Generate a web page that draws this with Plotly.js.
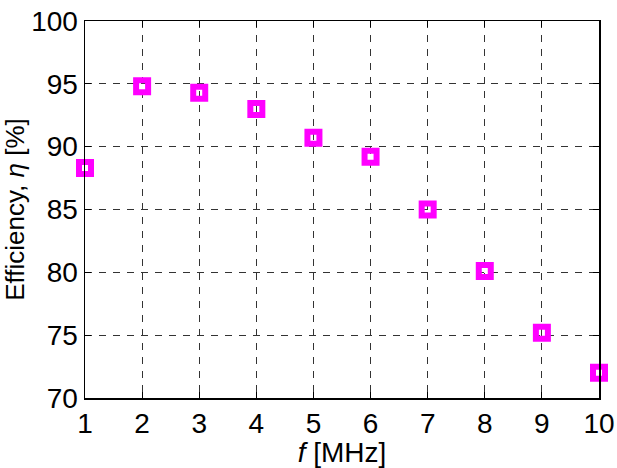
<!DOCTYPE html>
<html><head><meta charset="utf-8">
<script src="https://cdn.plot.ly/plotly-3.0.1.min.js"></script>
<style>html,body{margin:0;padding:0;background:#fff}#plot{width:617px;height:468px}</style>
</head><body><div id="plot"></div>
<script>
var freqMHz = [1, 2, 3, 4, 5, 6, 7, 8, 9, 10];
var efficiency = [88.3, 94.8, 94.3, 93.0, 90.7, 89.2, 85.0, 80.1, 75.2, 72.0];
var xTicks = [1, 2, 3, 4, 5, 6, 7, 8, 9, 10];
var yTicks = [70, 75, 80, 85, 90, 95, 100];

var FONT = 'Liberation Sans, Arial, sans-serif';
var trace = {
  x: freqMHz, y: efficiency, type: 'scatter', mode: 'markers',
  cliponaxis: false,
  marker: {symbol: 'square-open', size: 12, color: '#FF00FF', line: {width: 6, color: '#FF00FF'}}
};
var axisCommon = {
  showline: true, linecolor: '#000', linewidth: 1.5, mirror: 'ticks',
  ticks: 'inside', ticklen: 6, tickcolor: '#000', tickwidth: 1,
  showgrid: true, gridcolor: '#333', gridwidth: 1, griddash: '7px,7px',
  zeroline: false,
  tickfont: {family: FONT, size: 28, color: '#000'}
};
var layout = {
  width: 617, height: 468,
  margin: {l: 85, r: 18, t: 21, b: 70},
  paper_bgcolor: '#fff', plot_bgcolor: '#fff',
  showlegend: false,
  font: {family: FONT, color: '#000'},
  xaxis: Object.assign({}, axisCommon, {
    range: [1, 10], tickvals: xTicks, ticktext: xTicks.map(String),
    title: {text: '<i>f</i> [MHz]', font: {size: 28, family: FONT}, standoff: 2}
  }),
  yaxis: Object.assign({}, axisCommon, {
    range: [70, 100], tickvals: yTicks, ticktext: yTicks.map(String),
    title: {text: 'Efficiency, <i>η</i> [%]', font: {size: 26, family: FONT}, standoff: 2}
  })
};
Plotly.newPlot('plot', [trace], layout, {displayModeBar: false, staticPlot: true});
</script></body></html>
